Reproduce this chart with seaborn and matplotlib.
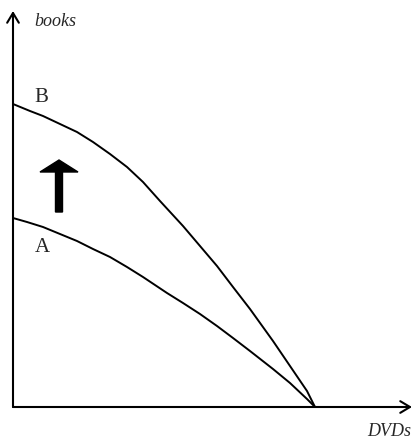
import pandas as pd
import seaborn as sns
import matplotlib.pyplot as plt

# production possibility frontiers
dvds_b = [0, 17, 30, 47, 64, 80, 97, 114, 130, 147, 170, 187, 204, 220, 237,
          260, 277, 294, 302]
books_b = [303, 296, 291, 283, 275, 265, 253, 240, 225, 206, 181, 161, 141, 120, 98,
           66, 41, 16, 0]
dvds_a = [0, 14, 30, 47, 64, 80, 97, 114, 130, 154, 170, 187, 204, 220, 237,
          260, 277, 294, 302]
books_a = [189, 185, 180, 173, 166, 158, 150, 140, 130, 114, 104, 93, 81, 69, 56,
           38, 24, 8, 0]

df = pd.concat([
    pd.DataFrame({'DVDs': dvds_b, 'books': books_b, 'curve': 'B'}),
    pd.DataFrame({'DVDs': dvds_a, 'books': books_a, 'curve': 'A'}),
])

sns.set_style('white')
fig = plt.figure(figsize=(4.15, 4.39), dpi=100)
ax = fig.add_axes([13 / 415, 31 / 439, 399 / 415, 396 / 439])

sns.lineplot(data=df, x='DVDs', y='books', hue='curve', palette=['black', 'black'],
             sort=False, estimator=None, linewidth=1.4, legend=False, ax=ax)

ax.set_xlim(0, 399)
ax.set_ylim(0, 396)
ax.set_xticks([])
ax.set_yticks([])
ax.set_xlabel('')
ax.set_ylabel('')
for s in ax.spines.values():
    s.set_visible(False)

# axes with open arrow heads
arrow_kw = dict(arrowstyle='->,head_length=0.5,head_width=0.3', color='black', lw=1.5,
                mutation_scale=14, shrinkA=0, shrinkB=0)
ax.annotate('', xy=(0, 1), xytext=(0, 0), xycoords='axes fraction', arrowprops=arrow_kw,
            annotation_clip=False)
ax.annotate('', xy=(1, 0), xytext=(0, 0), xycoords='axes fraction', arrowprops=arrow_kw,
            annotation_clip=False)

# thick arrow showing the shift
ax.arrow(46, 195, 0, 52, width=7, head_width=38, head_length=12,
         length_includes_head=True, color='black')

serif = ['Liberation Serif', 'DejaVu Serif']
ax.text(42, 386, 'books', family=serif, style='italic', fontsize=13, ha='center', va='center')
ax.text(376, -24, 'DVDs', family=serif, style='italic', fontsize=13, ha='center', va='center',
        clip_on=False)
ax.text(28, 311, 'B', family=serif, fontsize=15, ha='center', va='center')
ax.text(29, 160, 'A', family=serif, fontsize=15, ha='center', va='center')

fig.savefig('out.png', dpi=100)
